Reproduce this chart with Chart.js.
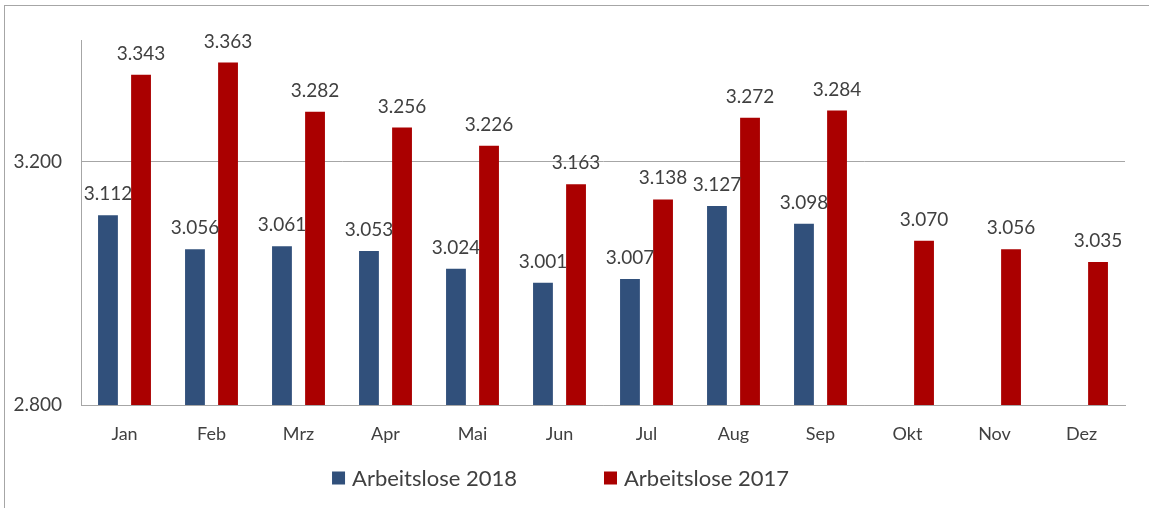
<!DOCTYPE html>
<html>
<head>
<meta charset="utf-8">
<script src="https://cdn.jsdelivr.net/npm/chart.js@4.4.1/dist/chart.umd.min.js"></script>
<style>
    html, body { margin: 0; padding: 0; background: #fff; }
    #wrap { position: relative; width: 1149px; height: 508px; }
    #frame {
        position: absolute; left: 4px; top: 5px; right: 0; bottom: 0;
        border-top: 1px solid #a6a6a6; border-left: 1px solid #a6a6a6;
        pointer-events: none;
    }
</style>
</head>
<body>
<div id="wrap">
    <canvas id="arbeitsloseChart" width="1149" height="508"></canvas>
    <div id="frame"></div>
</div>
<script>
// Monate
const monate = ['Jan', 'Feb', 'Mrz', 'Apr', 'Mai', 'Jun', 'Jul', 'Aug', 'Sep', 'Okt', 'Nov', 'Dez'];
// Arbeitslose in Tausend
const arbeitslose2018 = [3112, 3056, 3061, 3053, 3024, 3001, 3007, 3127, 3098, null, null, null];
const arbeitslose2017 = [3343, 3363, 3282, 3256, 3226, 3163, 3138, 3272, 3284, 3070, 3056, 3035];
const yTicks = [2800, 3200];

const textColor = '#404040';
const fontName = 'Lato, "Open Sans", sans-serif';

function formatZahl(value) {
    return new Intl.NumberFormat('de-DE').format(value);
}

// Werte über den Balken
const valueLabels = {
    id: 'valueLabels',
    afterDatasetsDraw(chart) {
        const ctx = chart.ctx;
        ctx.save();
        ctx.font = '19px ' + fontName;
        ctx.fillStyle = textColor;
        ctx.textAlign = 'center';
        ctx.textBaseline = 'alphabetic';
        chart.data.datasets.forEach((ds, i) => {
            const meta = chart.getDatasetMeta(i);
            meta.data.forEach((bar, j) => {
                const v = ds.data[j];
                if (v === null) return;
                ctx.fillText(formatZahl(v), bar.x, bar.y - 15);
            });
        });
        ctx.restore();
    }
};

// Legende unten
const bottomLegend = {
    id: 'bottomLegend',
    afterDraw(chart) {
        const ctx = chart.ctx;
        const box = 13, gap = 7, spacing = 87, y = 478;
        ctx.save();
        ctx.font = '22px ' + fontName;
        ctx.textBaseline = 'middle';
        const items = chart.data.datasets.map(ds => ({
            text: ds.label,
            color: ds.backgroundColor,
            w: box + gap + ctx.measureText(ds.label).width
        }));
        const total = items.reduce((a, it) => a + it.w, 0) + spacing * (items.length - 1);
        let x = (chart.width - total) / 2 - 14;
        items.forEach(it => {
            ctx.fillStyle = it.color;
            ctx.fillRect(x, y - box / 2, box, box);
            ctx.fillStyle = textColor;
            ctx.fillText(it.text, x + box + gap, y + 1);
            x += it.w + spacing;
        });
        ctx.restore();
    }
};

const ctx = document.getElementById('arbeitsloseChart').getContext('2d');
new Chart(ctx, {
    type: 'bar',
    data: {
        labels: monate,
        datasets: [
            {
                label: 'Arbeitslose 2018',
                data: arbeitslose2018,
                backgroundColor: '#31507b',
                categoryPercentage: 0.76,
                barPercentage: 0.6
            },
            {
                label: 'Arbeitslose 2017',
                data: arbeitslose2017,
                backgroundColor: '#aa0000',
                categoryPercentage: 0.76,
                barPercentage: 0.6
            }
        ]
    },
    options: {
        responsive: false,
        animation: false,
        layout: {
            padding: { left: 0, top: 40, right: 24, bottom: 43 }
        },
        plugins: {
            legend: { display: false },
            tooltip: { enabled: false }
        },
        scales: {
            x: {
                grid: { display: false },
                border: { display: true, color: '#a6a6a6', width: 1 },
                ticks: {
                    color: textColor,
                    font: { family: fontName, size: 18 },
                    padding: 10,
                    maxRotation: 0
                },
                afterFit: function (axis) { axis.height = 60; }
            },
            y: {
                min: 2800,
                max: 3400,
                grid: { color: '#a6a6a6', drawTicks: false },
                border: { display: true, color: '#a6a6a6', width: 1 },
                ticks: {
                    color: textColor,
                    font: { family: fontName, size: 19 },
                    padding: 19,
                    callback: function (value) { return formatZahl(value); }
                },
                afterBuildTicks: function (axis) {
                    axis.ticks = yTicks.map(v => ({ value: v }));
                },
                afterFit: function (axis) { axis.width = 81; }
            }
        }
    },
    plugins: [valueLabels, bottomLegend]
});
</script>
</body>
</html>
